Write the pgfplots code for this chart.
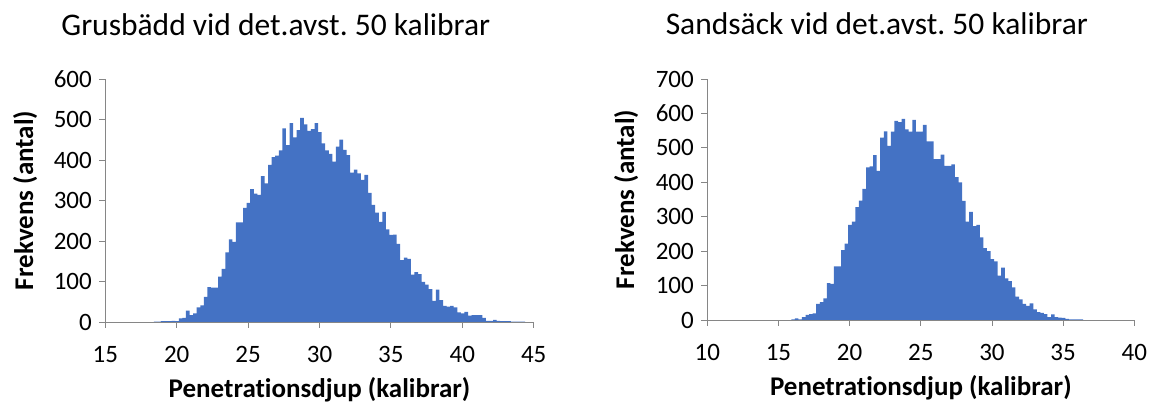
\documentclass[border=0pt]{standalone}
\usepackage{fontspec}
\setmainfont{Carlito}[Ligatures=NoCommon]
\usepackage{pgfplots}
\usepackage{pgfplotstable}
\pgfplotsset{compat=1.18}
\definecolor{barblue}{HTML}{4472C4}
\definecolor{axgray}{HTML}{868686}
\frenchspacing

\pgfplotstableread{
x y
18.40 1
18.65 1
18.90 2
19.15 2
19.40 2
19.65 3
19.90 2
20.15 9
20.40 10
20.65 28
20.90 17
21.15 21
21.40 36
21.65 41
21.90 62
22.15 86
22.40 85
22.65 85
22.90 112
23.15 131
23.40 172
23.65 204
23.90 198
24.15 246
24.40 246
24.65 282
24.90 294
25.15 328
25.40 317
25.65 314
25.90 360
26.15 342
26.40 388
26.65 407
26.90 411
27.15 424
27.40 478
27.65 437
27.90 491
28.15 456
28.40 474
28.65 504
28.90 488
29.15 472
29.40 476
29.65 491
29.90 469
30.15 441
30.40 424
30.65 415
30.90 396
31.15 433
31.40 450
31.65 425
31.90 412
32.15 369
32.40 376
32.65 367
32.90 351
33.15 363
33.40 319
33.65 289
33.90 270
34.15 247
34.40 272
34.65 229
34.90 215
35.15 216
35.40 193
35.65 153
35.90 159
36.15 156
36.40 117
36.65 123
36.90 118
37.15 99
37.40 92
37.65 81
37.90 52
38.15 80
38.40 54
38.65 40
38.90 38
39.15 40
39.40 36
39.65 24
39.90 21
40.15 25
40.40 16
40.65 17
40.90 17
41.15 17
41.40 10
41.65 3
41.90 3
42.15 5
42.40 3
42.65 2
42.90 2
43.15 2
43.40 1
43.65 1
43.90 1
44.15 1
44.40 0
}\lefttab

\pgfplotstableread{
x y
15.90 2
16.15 5
16.40 2
16.65 8
16.90 15
17.15 17
17.40 19
17.65 47
17.90 52
18.15 63
18.40 107
18.65 105
18.90 156
19.15 156
19.40 203
19.65 222
19.90 276
20.15 286
20.40 328
20.65 347
20.90 381
21.15 443
21.40 446
21.65 479
21.90 433
22.15 530
22.40 548
22.65 506
22.90 547
23.15 578
23.40 575
23.65 584
23.90 554
24.15 547
24.40 581
24.65 547
24.90 547
25.15 567
25.40 519
25.65 519
25.90 467
26.15 467
26.40 480
26.65 448
26.90 448
27.15 452
27.40 415
27.65 400
27.90 346
28.15 286
28.40 314
28.65 273
28.90 276
29.15 240
29.40 209
29.65 200
29.90 177
30.15 170
30.40 129
30.65 152
30.90 121
31.15 113
31.40 95
31.65 68
31.90 60
32.15 47
32.40 41
32.65 48
32.90 31
33.15 23
33.40 21
33.65 17
33.90 8
34.15 16
34.40 8
34.65 7
34.90 6
35.15 3
35.40 2
35.65 2
35.90 2
36.15 2
36.40 0
}\righttab

\pgfplotsset{
  hist/.style={
    scale only axis,
    axis lines=left,
    axis line style={-, draw=axgray, line width=0.9pt},
    tick align=outside,
    major tick length=6pt,
    tick style={draw=axgray, line width=0.9pt},
    ticklabel style={font=\fontsize{25}{30}\selectfont, text=black},
    xticklabel style={yshift=-15pt},
    yticklabel style={xshift=-4pt},
    /pgf/number format/assume math mode=true,
    title style={font=\fontsize{31.5}{36}\selectfont, anchor=center, yshift=0pt},
    xlabel style={font=\bfseries\fontsize{27}{32}\selectfont, anchor=center, at={(axis description cs:0.5,-0.28)}},
    ylabel style={font=\bfseries\fontsize{27}{32}\selectfont, anchor=center},
    xlabel={Penetrationsdjup (kalibrar)},
    ylabel={Frekvens (antal)},
    ymin=0,
    ytick distance=100,
    xtick distance=5,
    clip=false,
  }
}

\begin{document}
\begin{tikzpicture}
\useasboundingbox (0pt,0pt) rectangle (1151pt,403pt);
\begin{axis}[hist,
  at={(105.3pt,81pt)}, anchor=origin,
  width=428.4pt, height=243pt,
  xmin=15, xmax=45, ymax=600,
  title={Grusbädd vid det.avst. 50 kalibrar},
  title style={at={(axis description cs:0.398,1.2)}},
  ylabel style={at={(axis description cs:-0.187,0.5)}},
]
\addplot[ybar interval, fill=barblue, draw=none] table {\lefttab};
\end{axis}
\begin{axis}[hist,
  at={(707.3pt,83pt)}, anchor=origin,
  width=427pt, height=241pt,
  xmin=10, xmax=40, ymax=700,
  title={Sandsäck vid det.avst. 50 kalibrar},
  title style={at={(axis description cs:0.397,1.203)}},
  ylabel style={at={(axis description cs:-0.19,0.5)}},
]
\addplot[ybar interval, fill=barblue, draw=none] table {\righttab};
\end{axis}
\end{tikzpicture}
\end{document}
